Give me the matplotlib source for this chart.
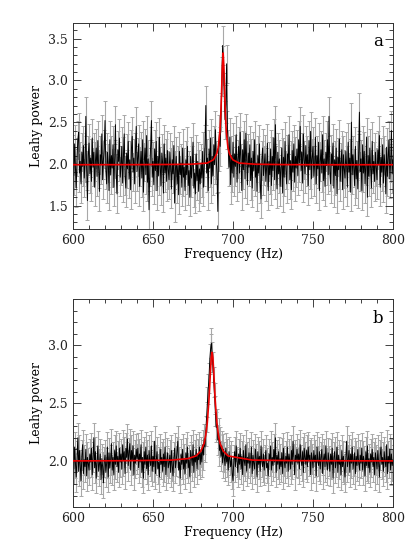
import numpy as np
import matplotlib
matplotlib.use("Agg")
import matplotlib.pyplot as plt
from matplotlib.ticker import MultipleLocator

# frequency grid, 0.5 Hz bins from 600 to 800 Hz
freq_start = 600.0
freq_step = 0.5

# panel a: Leahy power in hundredths, one row per 10 Hz
power_a = """
212 186 224 195 171 208 229 238 189 203 176 214 197 222 183 201 257 192 156 210
225 188 207 179 231 196 214 172 203 219 185 228 194 167 211 199 236 181 205 218
252 193 176 214 201 168 229 187 210 195 223 172 206 247 189 164 217 203 231 184
198 221 177 209 236 186 171 213 194 227 182 205 169 218 233 190 207 176 214 245
191 208 224 173 197 215 183 229 166 202 219 187 234 178 206 145 196 221 252 184
203 175 218 192 227 168 209 186 232 197 174 213 201 165 224 189 207 179 216 193
181 214 196 170 205 188 222 153 193 209 176 198 163 215 187 201 172 219 184 196
168 205 187 221 174 192 160 209 183 198 226 171 189 164 212 180 203 167 194 176
201 183 215 172 196 224 270 189 207 168 218 195 231 176 209 186 223 199 241 205
188 143 215 236 221 262 305 342 318 286 253 272 320 241 218 196 232 175 210 189
226 184 212 197 235 178 206 221 189 238 201 168 217 193 229 182 237 204 175 213
196 223 180 207 171 215 192 229 184 201 167 210 189 224 176 158 205 219 186 198
212 179 196 225 168 203 187 218 174 209 192 231 181 247 199 170 214 188 206 173
197 219 165 208 184 227 193 176 212 200 235 181 204 169 216 190 224 178 209 195
218 186 229 201 245 192 214 177 236 205 188 222 197 211 174 228 193 239 182 207
221 185 199 232 176 210 194 226 168 203 217 189 235 180 206 173 214 198 229 187
257 191 176 212 198 225 171 205 186 219 164 208 193 230 179 202 217 169 211 194
183 215 198 172 226 190 207 166 250 187 211 195 174 221 182 204 170 213 262 191
206 168 223 189 215 176 198 232 160 210 185 219 194 171 227 188 203 179 214 196
181 217 199 234 172 208 190 223 177 211 196 164 220 185 206 229 182 201 240 188
205
"""

# panel b: Leahy power in hundredths, one row per 10 Hz
power_b = """
207 193 212 198 186 204 220 191 209 196 183 205 214 189 201 195 210 187 203 198
192 206 199 211 188 203 220 194 208 185 200 213 191 197 206 184 202 195 181 199
205 190 198 212 186 207 194 201 215 192 203 188 209 197 213 195 204 190 211 199
206 193 214 200 208 189 211 203 219 196 207 215 192 209 201 213 188 205 198 210
202 211 194 206 199 214 190 203 185 208 197 212 193 205 188 209 200 196 213 191
204 195 217 189 201 208 193 199 186 210 197 203 191 206 195 212 188 200 207 194
198 205 190 209 196 187 203 211 194 200 208 217 192 199 185 206 197 210 193 202
189 207 198 212 194 201 186 209 203 196 214 190 205 199 210 193 206 201 212 197
208 199 214 205 219 212 226 238 251 262 272 288 297 302 290 281 268 254 243 229
232 218 224 209 216 204 213 198 210 203 196 211 199 206 192 208 201 195 204 189
183 201 208 195 213 199 190 206 197 211 193 204 188 209 200 196 214 191 203 198
207 194 200 212 189 205 198 193 210 202 186 208 197 204 191 213 199 195 206 192
201 209 194 198 187 206 200 213 192 203 196 210 199 220 190 205 197 208 193 202
195 207 189 211 200 194 204 198 212 191 206 200 193 209 197 217 202 188 205 199
210 198 206 193 214 201 196 208 190 211 203 197 209 195 212 200 205 188 207 202
194 209 199 205 187 212 200 196 208 193 203 210 189 201 206 195 213 198 192 207
200 191 206 197 211 185 203 208 194 199 212 190 205 197 201 188 209 195 204 193
186 203 217 195 201 209 190 206 198 212 193 200 207 189 204 196 210 199 192 205
198 211 192 204 200 187 208 196 213 194 202 190 206 199 210 195 203 188 207 201
193 209 199 186 205 212 197 203 191 208 200 195 214 189 204 198 210 192 206 196
201
"""

# error bar half-length per panel
err_a = 0.23
err_b = 0.13

# fitted Lorentzian
fit_a_freq = [600, 640, 660, 673.8, 683.8, 687.8, 689.8, 690.8, 691.8, 692.3, 692.8,
              693.3, 693.8, 694.3, 694.8, 695.3, 695.8, 696.8, 697.8, 699.8, 703.8,
              713.8, 733.8, 760, 800]
fit_a_pow = [1.99, 1.991, 1.993, 1.996, 2.01, 2.05, 2.12, 2.20, 2.39, 2.565, 2.83,
             3.16, 3.33, 3.16, 2.83, 2.565, 2.39, 2.20, 2.12, 2.05, 2.01,
             1.996, 1.991, 1.99, 1.99]

fit_b_freq = [600, 636.9, 661.9, 671.9, 676.9, 679.9, 681.9, 682.9, 683.9, 684.9,
              685.4, 685.9, 686.4, 686.9, 687.4, 687.9, 688.4, 688.9, 689.9, 690.9,
              691.9, 693.9, 696.9, 711.9, 736.9, 800]
fit_b_pow = [2.0, 2.002, 2.007, 2.02, 2.043, 2.085, 2.15, 2.22, 2.33, 2.515,
             2.64, 2.78, 2.894, 2.94, 2.894, 2.78, 2.64, 2.515, 2.33, 2.22,
             2.15, 2.085, 2.043, 2.007, 2.002, 2.0]

panels = [
    ("a", power_a, err_a, fit_a_freq, fit_a_pow, (1.22, 3.69)),
    ("b", power_b, err_b, fit_b_freq, fit_b_pow, (1.60, 3.40)),
]

plt.rcParams['font.family'] = ['DejaVu Serif']

fig = plt.figure(figsize=(4.15, 5.53), dpi=100)
boxes = [[0.176, 0.586, 0.771, 0.3725], [0.176, 0.083, 0.771, 0.376]]

for box, (letter, text, err, ffreq, fpow, ylim) in zip(boxes, panels):
    ax = fig.add_axes(box)
    power = np.array(text.split(), dtype=float) / 100.0
    freq = freq_start + freq_step * np.arange(len(power))

    ax.errorbar(freq, power, yerr=err, fmt='none', ecolor='#a8a8a8',
                elinewidth=0.8, capsize=1.2, capthick=0.7, zorder=1)
    ax.plot(freq, power, color='black', lw=0.7, zorder=2)
    ax.plot(ffreq, fpow, color='#ee0000', lw=1.2, zorder=3)

    ax.set_xlim(600, 800)
    ax.set_ylim(*ylim)
    ax.xaxis.set_major_locator(MultipleLocator(50))
    ax.xaxis.set_minor_locator(MultipleLocator(10))
    ax.yaxis.set_major_locator(MultipleLocator(0.5))
    ax.yaxis.set_minor_locator(MultipleLocator(0.1))
    ax.yaxis.set_major_formatter(matplotlib.ticker.FormatStrFormatter('%.1f'))
    ax.tick_params(which='both', direction='in', top=True, right=True,
                   labelsize=9, colors='#222222', width=0.6)
    ax.tick_params(which='major', length=5.5)
    ax.tick_params(which='minor', length=2.8)
    for s in ax.spines.values():
        s.set_linewidth(0.7)
        s.set_color('#333333')

    ax.set_xlabel("Frequency (Hz)", fontsize=9, labelpad=1)
    ax.set_ylabel("Leahy power", fontsize=9, labelpad=4)
    ax.text(0.97, 0.95, letter, transform=ax.transAxes, ha='right', va='top',
            fontsize=12)

fig.savefig("out.png", dpi=100)
